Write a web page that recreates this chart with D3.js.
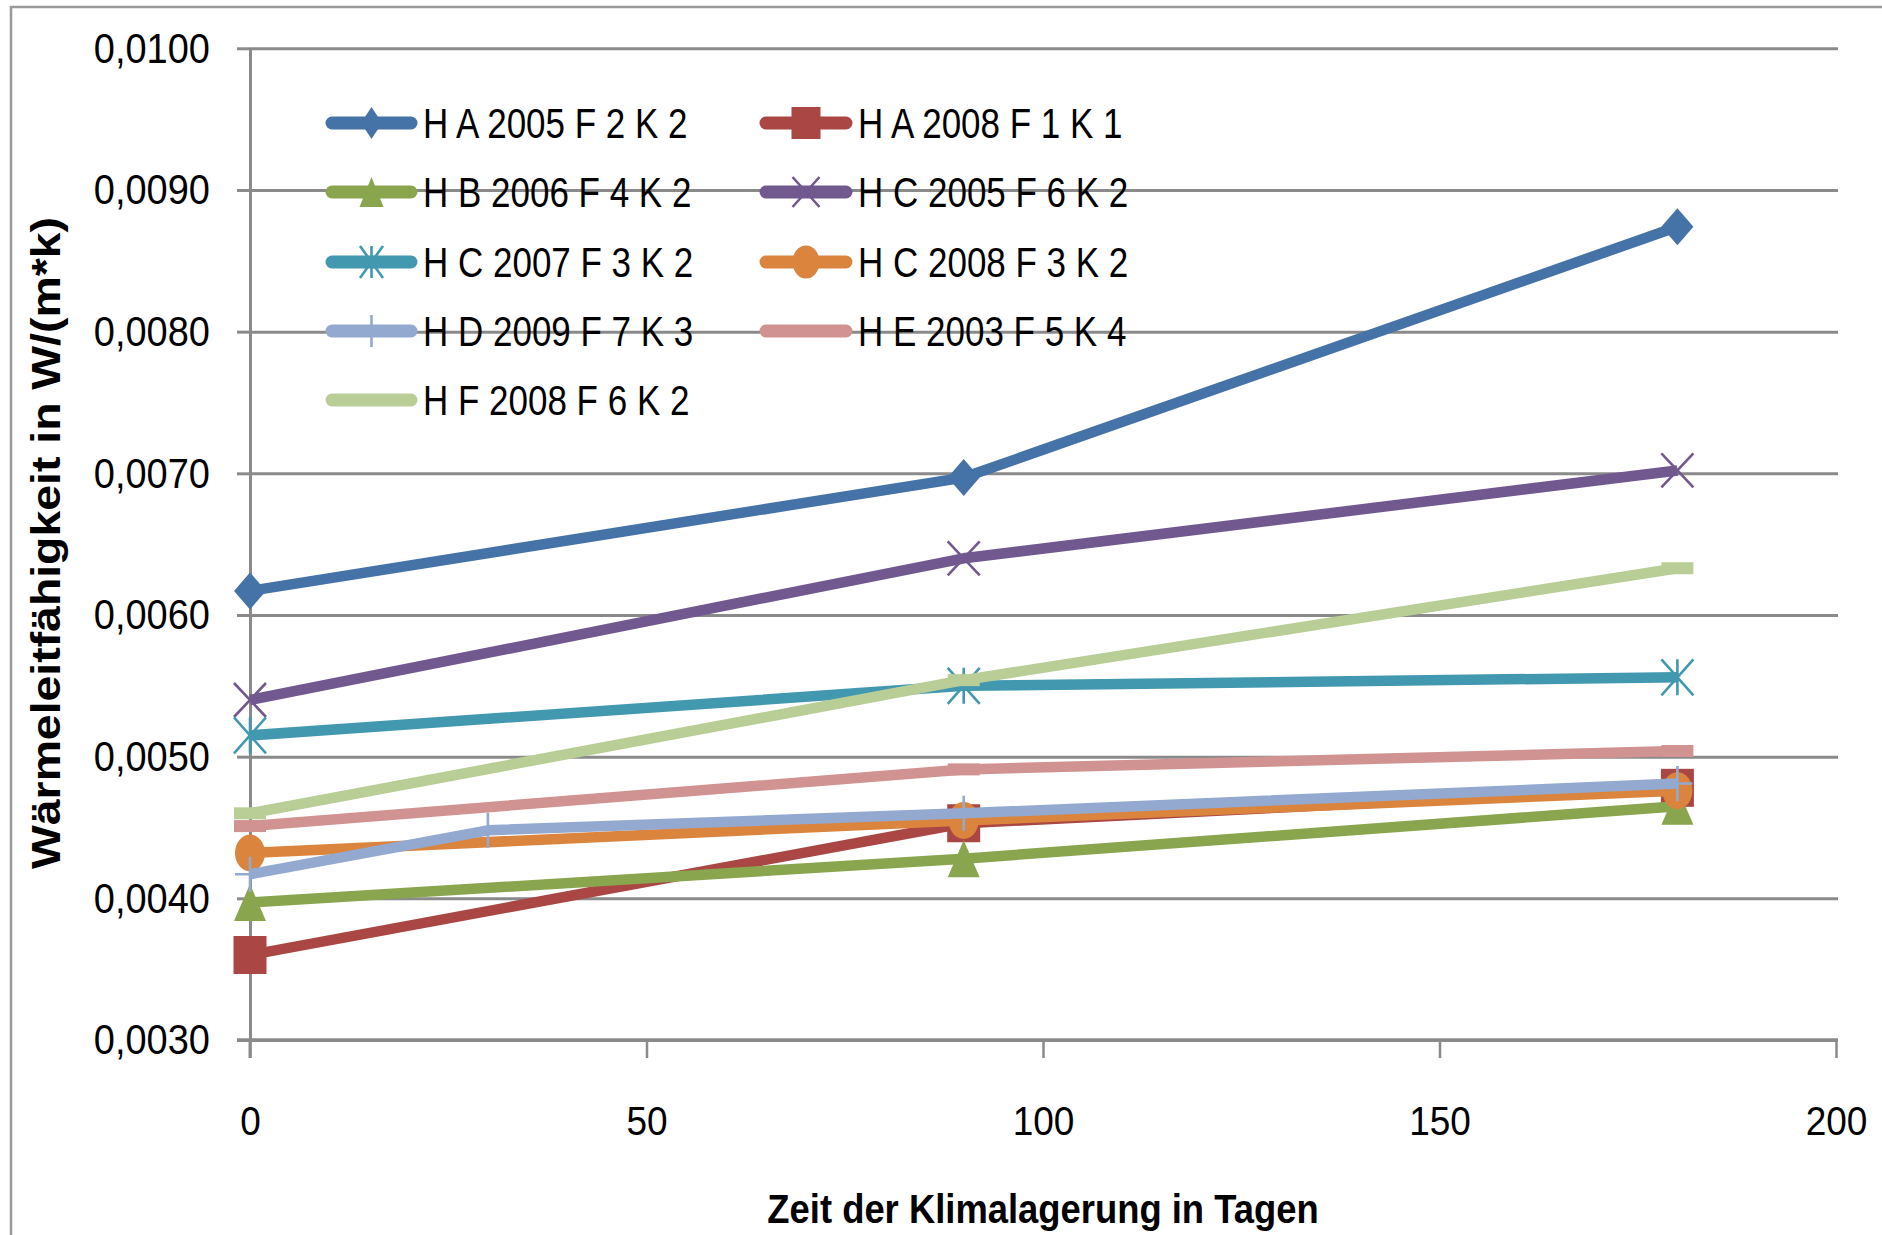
<!DOCTYPE html>
<html><head><meta charset="utf-8">
<script src="https://cdn.jsdelivr.net/npm/d3@7"></script>
<style>html,body{margin:0;padding:0;background:#fff;overflow:hidden}svg{display:block}</style>
</head><body>
<svg id="chart" width="1882" height="1235"></svg>
<script>
// ---- data ----
const seriesNames = ["H A 2005 F 2 K 2","H A 2008 F 1 K 1","H B 2006 F 4 K 2","H C 2005 F 6 K 2","H C 2007 F 3 K 2","H C 2008 F 3 K 2","H D 2009 F 7 K 3","H E 2003 F 5 K 4","H F 2008 F 6 K 2"];
const days3 = [0, 90, 180];
const daysHD = [0, 30, 90, 180];
const vHA2005 = [0.00617, 0.00697, 0.00874];
const vHA2008 = [0.00360, 0.00453, 0.00478];
const vHB2006 = [0.00397, 0.00428, 0.00465];
const vHC2005 = [0.00540, 0.00640, 0.00702];
const vHC2007 = [0.00515, 0.00550, 0.00556];
const vHC2008 = [0.00432, 0.00455, 0.00476];
const vHD2009 = [0.00417, 0.00448, 0.00460, 0.00481];
const vHE2003 = [0.00451, 0.00491, 0.00504];
const vHF2008 = [0.00460, 0.00554, 0.00633];
const seriesColors = ["#4572A7","#AA4643","#89A54E","#71588F","#4198AF","#DB843D","#93A9CF","#D19392","#B9CD96"];
const seriesMarkers = ["diamond","square","triangle","x","star","circle","plus","dash","dash"];
const yTickValues = [0.003,0.004,0.005,0.006,0.007,0.008,0.009,0.010];
const xTickValues = [0,50,100,150,200];
const xTitle = "Zeit der Klimalagerung in Tagen";
const yTitle = "Wärmeleitfähigkeit in W/(m*k)";

const seriesData = [
  [days3, vHA2005],[days3, vHA2008],[days3, vHB2006],[days3, vHC2005],[days3, vHC2007],
  [days3, vHC2008],[daysHD, vHD2009],[days3, vHE2003],[days3, vHF2008]
].map(([d, v], i) => ({name: seriesNames[i], color: seriesColors[i], marker: seriesMarkers[i],
  pts: d.map((x, j) => ({x, y: v[j]}))}));

// ---- layout ----
const FONT = "'Liberation Sans', Arial, sans-serif";
const svg = d3.select("#chart");
const x = d3.scaleLinear().domain([0, 200]).range([250, 1836]);
const y = d3.scaleLinear().domain([0.003, 0.010]).range([1040, 48.3]);
const grid = "#8a8a8a";
const loc = d3.formatLocale({decimal: ",", thousands: ".", grouping: [3], currency: ["", "€"]});
const yFmt = loc.format(".4f");

// outer border
svg.append("rect").attr("x", 11).attr("y", 7).attr("width", 1950).attr("height", 1400)
  .attr("fill", "none").attr("stroke", "#9a9a9a").attr("stroke-width", 2.5);

// gridlines
svg.append("g").attr("transform", "translate(250,0)")
  .call(d3.axisRight(y).tickValues(yTickValues).tickSize(1588).tickFormat(""))
  .call(g => { g.select(".domain").remove(); g.selectAll("line").attr("stroke", grid).attr("stroke-width", 3); });

// y axis
svg.append("g").attr("transform", "translate(250,0)")
  .call(d3.axisLeft(y).tickValues(yTickValues).tickSize(13).tickPadding(27).tickFormat(yFmt).tickSizeOuter(0))
  .call(g => {
    g.select(".domain").attr("stroke", grid).attr("stroke-width", 3);
    g.selectAll("line").attr("stroke", grid).attr("stroke-width", 3);
    g.selectAll("text").attr("font-family", FONT).attr("font-size", 38).attr("fill", "#000")
      .attr("transform", "scale(1,1.14)");
  });

// x axis
svg.append("g").attr("transform", "translate(0,1040)")
  .call(d3.axisBottom(x).tickValues(xTickValues).tickSize(18).tickSizeOuter(0))
  .call(g => {
    g.select(".domain").attr("stroke", grid).attr("stroke-width", 3.5).attr("d", "M237,0H1838");
    g.selectAll("line").attr("stroke", grid).attr("stroke-width", 2.5);
    g.selectAll("text").attr("font-family", FONT).attr("font-size", 37).attr("fill", "#000")
      .attr("y", 0).attr("dy", "0.36em").attr("transform", "translate(0,80) scale(1,1.1)");
  });
// extend y-axis line down to tick end
svg.append("line").attr("x1", 250).attr("x2", 250).attr("y1", y(0.003)).attr("y2", 1058)
  .attr("stroke", grid).attr("stroke-width", 3);

// titles
svg.append("text").attr("transform", "translate(1043,1223) scale(1,1.1)")
  .attr("text-anchor", "middle").attr("font-family", FONT).attr("font-weight", "bold")
  .attr("font-size", 36.4).attr("fill", "#000").text(xTitle);
svg.append("text").attr("transform", "translate(46,543) rotate(-90) scale(1.16,1)")
  .attr("text-anchor", "middle").attr("dy", "0.36em").attr("font-family", FONT).attr("font-weight", "bold")
  .attr("font-size", 40).attr("fill", "#000").text(yTitle);

// marker drawing
function drawMarker(g, type, color, w, h) {
  const sw = 2.6;
  if (type === "diamond") {
    g.append("path").attr("d", `M0,${-h/2}L${w/2},0L0,${h/2}L${-w/2},0Z`).attr("fill", color);
  } else if (type === "square") {
    g.append("rect").attr("x", -w/2).attr("y", -h/2).attr("width", w).attr("height", h).attr("fill", color);
  } else if (type === "triangle") {
    g.append("path").attr("d", `M0,${-h/2}L${w/2},${h/2}L${-w/2},${h/2}Z`).attr("fill", color);
  } else if (type === "circle") {
    g.append("ellipse").attr("rx", w/2).attr("ry", h/2).attr("fill", color);
  } else if (type === "x" || type === "star") {
    g.append("path").attr("d", `M${-w/2},${-h/2}L${w/2},${h/2}M${w/2},${-h/2}L${-w/2},${h/2}` + (type === "star" ? `M0,${-h/2}V${h/2}` : ""))
      .attr("stroke", color).attr("stroke-width", sw).attr("fill", "none");
  } else if (type === "plus") {
    g.append("path").attr("d", `M0,${-h/2}V${h/2}M${-w/2},0H${w/2}`)
      .attr("stroke", color).attr("stroke-width", sw).attr("fill", "none");
  } else if (type === "dash") {
    g.append("rect").attr("x", -w/2).attr("y", -6).attr("width", w).attr("height", 12).attr("fill", color);
  }
}
const markerSize = {diamond:[32,37], square:[33,38], triangle:[32,37], circle:[30,37], x:[32,34], star:[32,36], plus:[30,35], dash:[32,12]};

// series
const line = d3.line().x(d => x(d.x)).y(d => y(d.y));
seriesData.forEach(s => {
  const g = svg.append("g");
  g.append("path").attr("d", line(s.pts)).attr("fill", "none").attr("stroke", s.color)
    .attr("stroke-width", 10.5).attr("stroke-linejoin", "round");
  s.pts.forEach(p => {
    const m = g.append("g").attr("transform", `translate(${x(p.x)},${y(p.y)})`);
    const [w, h] = markerSize[s.marker];
    drawMarker(m, s.marker, s.color, w, h);
  });
});

// legend
const legendRows = [123, 192, 262, 331, 400];
const legendCols = [{l1: 332, l2: 411, tx: 423}, {l1: 766, l2: 846, tx: 858}];
const legendMarkerSize = {diamond:[21,32], square:[29,32], triangle:[24,30], circle:[27,33], x:[27,30], star:[23,32], plus:[24,32], dash:[0,0]};
seriesData.forEach((s, i) => {
  const c = legendCols[i % 2], r = legendRows[Math.floor(i / 2)];
  const g = svg.append("g");
  g.append("line").attr("x1", c.l1).attr("x2", c.l2).attr("y1", r).attr("y2", r)
    .attr("stroke", s.color).attr("stroke-width", 13).attr("stroke-linecap", "round");
  if (s.marker !== "dash") {
    const [w, h] = legendMarkerSize[s.marker];
    drawMarker(g.append("g").attr("transform", `translate(${(c.l1 + c.l2) / 2},${r})`), s.marker, s.color, w, h);
  }
  g.append("text").attr("transform", `translate(${c.tx},${r}) scale(1,1.2)`).attr("dy", "0.36em")
    .attr("font-family", FONT).attr("font-size", 35).attr("fill", "#000").text(s.name);
});
</script>
</body></html>
